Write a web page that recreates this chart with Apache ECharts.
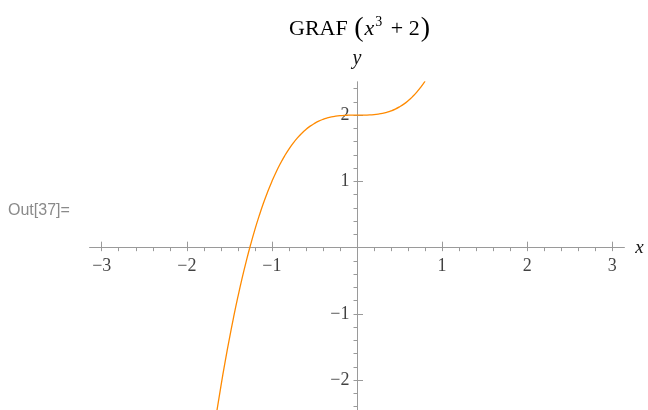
<!DOCTYPE html>
<html>
<head>
<meta charset="utf-8">
<script src="https://cdn.jsdelivr.net/npm/echarts@6/dist/echarts.min.js"></script>
<style>
html,body{margin:0;padding:0;background:#fff;}
#c{width:648px;height:410px;}
</style>
</head>
<body>
<div id="c"></div>
<script>
// Curve points: [x, y]
const curveX = [-1.65,-1.6,-1.55,-1.5,-1.45,-1.4,-1.35,-1.3,-1.25,-1.2,-1.15,-1.1,-1.05,-1.0,-0.95,-0.9,-0.85,-0.8,-0.75,-0.7,-0.65,-0.6,-0.55,-0.5,-0.45,-0.4,-0.35,-0.3,-0.25,-0.2,-0.15,-0.1,-0.05,0,0.05,0.1,0.15,0.2,0.25,0.3,0.35,0.4,0.45,0.5,0.55,0.6,0.65,0.7,0.75,0.8];
const curveY = [-2.49,-2.096,-1.724,-1.375,-1.049,-0.744,-0.460,-0.197,0.047,0.272,0.479,0.669,0.842,1.000,1.143,1.271,1.386,1.488,1.578,1.657,1.725,1.784,1.834,1.875,1.909,1.936,1.957,1.973,1.984,1.992,1.997,1.999,2.000,2.000,2.000,2.001,2.003,2.008,2.016,2.027,2.043,2.064,2.091,2.125,2.166,2.216,2.275,2.343,2.422,2.512];
const xMajorTicks = [-3,-2,-1,0,1,2,3];
const xTickLabels = [-3,-2,-1,1,2,3];
const xMinorTicks = [-3,-2.8,-2.6,-2.4,-2.2,-2,-1.8,-1.6,-1.4,-1.2,-1,-0.8,-0.6,-0.4,-0.2,0,0.2,0.4,0.6,0.8,1,1.2,1.4,1.6,1.8,2,2.2,2.4,2.6,2.8,3];
const yMajorTicks = [-2,-1,0,1,2];
const yTickLabels = [-2,-1,1,2];
const yMinorTicks = [-2.4,-2.2,-2,-1.8,-1.6,-1.4,-1.2,-1,-0.8,-0.6,-0.4,-0.2,0,0.2,0.4,0.6,0.8,1,1.2,1.4,1.6,1.8,2,2.2,2.4];

const points = curveX.map((x, i) => [x, curveY[i]]);
const fmt = v => (v < 0 ? '\u2212' + Math.abs(v) : String(v));
const axisCol = '#9a9a9a';
const serif = '"Liberation Serif","DejaVu Serif",serif';
const labelFont = {fontFamily: serif, fontSize: 18, color: '#111'};

const chart = echarts.init(document.getElementById('c'), null, {renderer: 'canvas'});
const xBase = {
  type: 'value', min: -3.14, max: 3.14, gridIndex: 0,
  axisLine: {show: true, onZero: true, lineStyle: {color: axisCol, width: 1}},
  axisLabel: {show: false},
  splitLine: {show: false}
};
const yBase = {
  type: 'value', min: -2.45, max: 2.5, gridIndex: 0,
  axisLine: {show: true, onZero: true, lineStyle: {color: axisCol, width: 1}},
  axisLabel: {show: false},
  splitLine: {show: false}
};
chart.setOption({
  animation: false,
  backgroundColor: '#fff',
  grid: {left: 89.8, right: 23.8, top: 82, bottom: 0, containLabel: false, outerBoundsMode: 'none'},
  title: {
    text: '{n|GRAF }{p|(}{i|x}{s|3}{n| + 2}{p|)}',
    left: 284, top: 10,
    textStyle: {
      fontWeight: 'normal',
      rich: {
        n: {fontFamily: serif, fontSize: 22, fontWeight: 'normal', color: '#000'},
        p: {fontFamily: serif, fontSize: 28, fontWeight: 'normal', color: '#000', padding: [0, 1, 0, 1]},
        i: {fontFamily: serif, fontSize: 22, fontStyle: 'italic', fontWeight: 'normal', color: '#000'},
        s: {fontFamily: serif, fontSize: 14, fontWeight: 'normal', color: '#000', verticalAlign: 'top', padding: [0, 3, 12, 1]}
      }
    }
  },
  xAxis: [
    Object.assign({}, xBase, {
      axisTick: {show: true, inside: true, length: 6, customValues: xMajorTicks, lineStyle: {color: axisCol}},
      name: 'x', nameLocation: 'end', nameGap: 11,
      nameTextStyle: {fontFamily: serif, fontStyle: 'italic', fontSize: 19, color: '#111'}
    }),
    Object.assign({}, xBase, {
      axisTick: {show: true, inside: true, length: 3.5, customValues: xMinorTicks, lineStyle: {color: axisCol}}
    })
  ],
  yAxis: [
    Object.assign({}, yBase, {
      axisTick: {show: true, inside: true, length: 6, customValues: yMajorTicks, lineStyle: {color: axisCol}},
      name: 'y', nameLocation: 'end', nameGap: 13,
      nameTextStyle: {fontFamily: serif, fontStyle: 'italic', fontSize: 20, color: '#111', align: 'center'}
    }),
    Object.assign({}, yBase, {
      axisTick: {show: true, inside: true, length: 3.5, customValues: yMinorTicks, lineStyle: {color: axisCol}}
    })
  ],
  graphic: [{
    type: 'text', left: 8, top: 203,
    style: {text: 'Out[37]=', fontFamily: '"Liberation Sans",Arial,sans-serif', fontSize: 16, fill: '#8a8a8a'}
  }],
  series: [
    {
      type: 'scatter', xAxisIndex: 0, yAxisIndex: 0, silent: true,
      symbolSize: 1, itemStyle: {color: 'rgba(0,0,0,0)'},
      data: xTickLabels.map(v => [v, 0]),
      label: Object.assign({show: true, position: 'bottom', distance: 9,
        formatter: p => fmt(p.value[0])}, labelFont),
      z: 3
    },
    {
      type: 'scatter', xAxisIndex: 0, yAxisIndex: 0, silent: true,
      symbolSize: 1, itemStyle: {color: 'rgba(0,0,0,0)'},
      data: yTickLabels.map(v => [0, v]),
      label: Object.assign({show: true, position: 'left', distance: 7,
        formatter: p => fmt(p.value[1])}, labelFont),
      z: 3
    },
    {
      type: 'line', xAxisIndex: 0, yAxisIndex: 0, data: points,
      smooth: 0.5, showSymbol: false, symbol: 'none', clip: true,
      lineStyle: {color: '#ff8a00', width: 1.3}, z: 5
    }
  ]
});
</script>
</body>
</html>
